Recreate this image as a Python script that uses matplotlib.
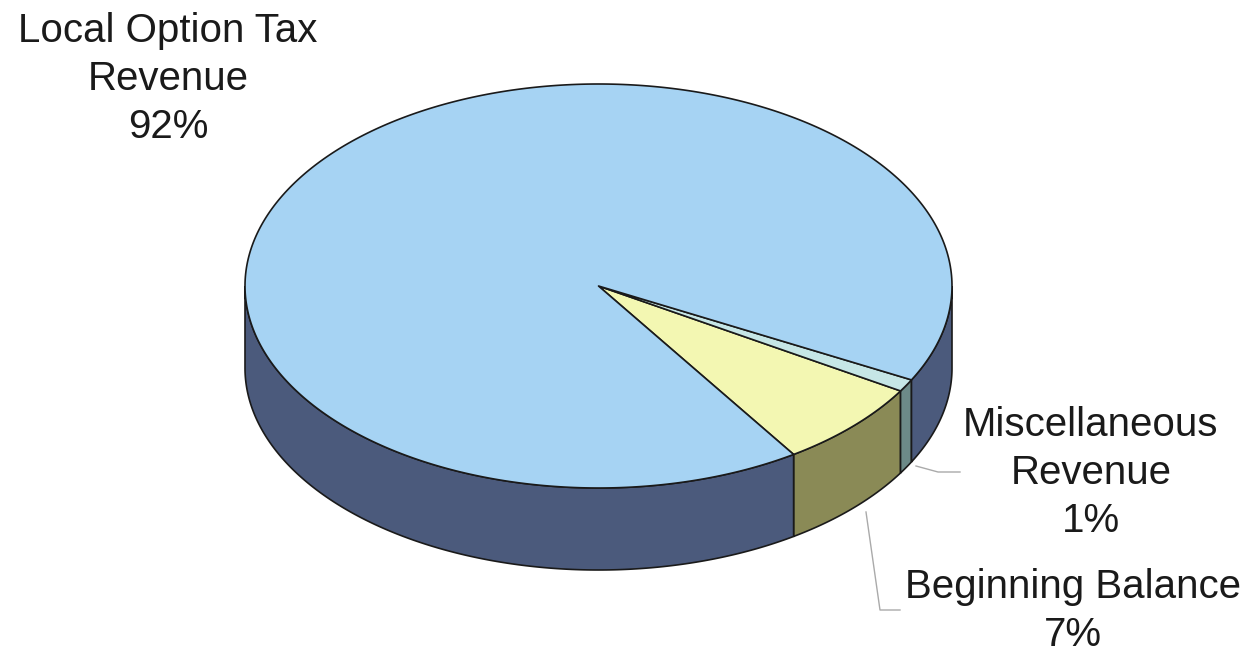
import matplotlib
matplotlib.use('Agg')
import matplotlib.pyplot as plt
import numpy as np
from matplotlib.patches import Polygon

plt.rcParams['font.family'] = ['Liberation Sans', 'DejaVu Sans']

# slice data, counter-clockwise from the start angle
labels = ['Beginning Balance', 'Miscellaneous\nRevenue', 'Local Option Tax\nRevenue']
shares = [7, 1, 92]
top_colors = ['#f3f7b2', '#c6e6e6', '#a6d3f3']
side_colors = ['#8a8a56', '#6c8a88', '#4b5a7c']
start_angle = -56.5

# pie geometry in pixel coords
cx, cy = 598.5, 286
rx, ry = 353.5, 202
depth = 82


def ell(t):
    return cx + rx * np.cos(np.radians(t)), cy - ry * np.sin(np.radians(t))


fig = plt.figure(figsize=(12.49, 6.55), dpi=100)
ax = fig.add_axes([0, 0, 1, 1])
ax.set_xlim(0, 1249)
ax.set_ylim(655, 0)
ax.axis('off')

fracs = np.array(shares) / sum(shares) * 360
bounds = start_angle + np.concatenate([[0], np.cumsum(fracs)])

# side walls (front half only: angles between 180 and 360)
for i in range(len(shares)):
    a0, a1 = bounds[i], bounds[i + 1]
    for shift in (-360, 0, 360):
        s0 = max(a0 + shift, 180)
        s1 = min(a1 + shift, 360)
        if s1 <= s0:
            continue
        t = np.linspace(s0, s1, 200)
        x, y = ell(t)
        pts = np.vstack([np.column_stack([x, y]),
                         np.column_stack([x[::-1], y[::-1] + depth])])
        ax.add_patch(Polygon(pts, closed=True, facecolor=side_colors[i],
                             edgecolor='#1a1a1a', linewidth=1.2))

# top face wedges
for i in range(len(shares)):
    t = np.linspace(bounds[i], bounds[i + 1], 400)
    x, y = ell(t)
    pts = np.vstack([[cx, cy], np.column_stack([x, y])])
    ax.add_patch(Polygon(pts, closed=True, facecolor=top_colors[i],
                         edgecolor='#1a1a1a', linewidth=1.2, joinstyle='round'))

# labels
fs = 29
ax.text(168, 79, 'Local Option Tax\nRevenue\n92%', ha='center', va='center',
        fontsize=fs, color='#1a1a1a', linespacing=1.32)
ax.text(1091, 473, 'Miscellaneous\nRevenue\n1%', ha='center', va='center',
        fontsize=fs, color='#1a1a1a', linespacing=1.32)
ax.text(1073, 611, 'Beginning Balance\n7%', ha='center', va='center',
        fontsize=fs, color='#1a1a1a', linespacing=1.32)

# leader lines
ax.plot([916, 938, 960], [466, 472, 472], color='#aaaaaa', lw=1)
ax.plot([866, 880, 900], [512, 610, 610], color='#aaaaaa', lw=1)

fig.savefig('out.png', dpi=100)
